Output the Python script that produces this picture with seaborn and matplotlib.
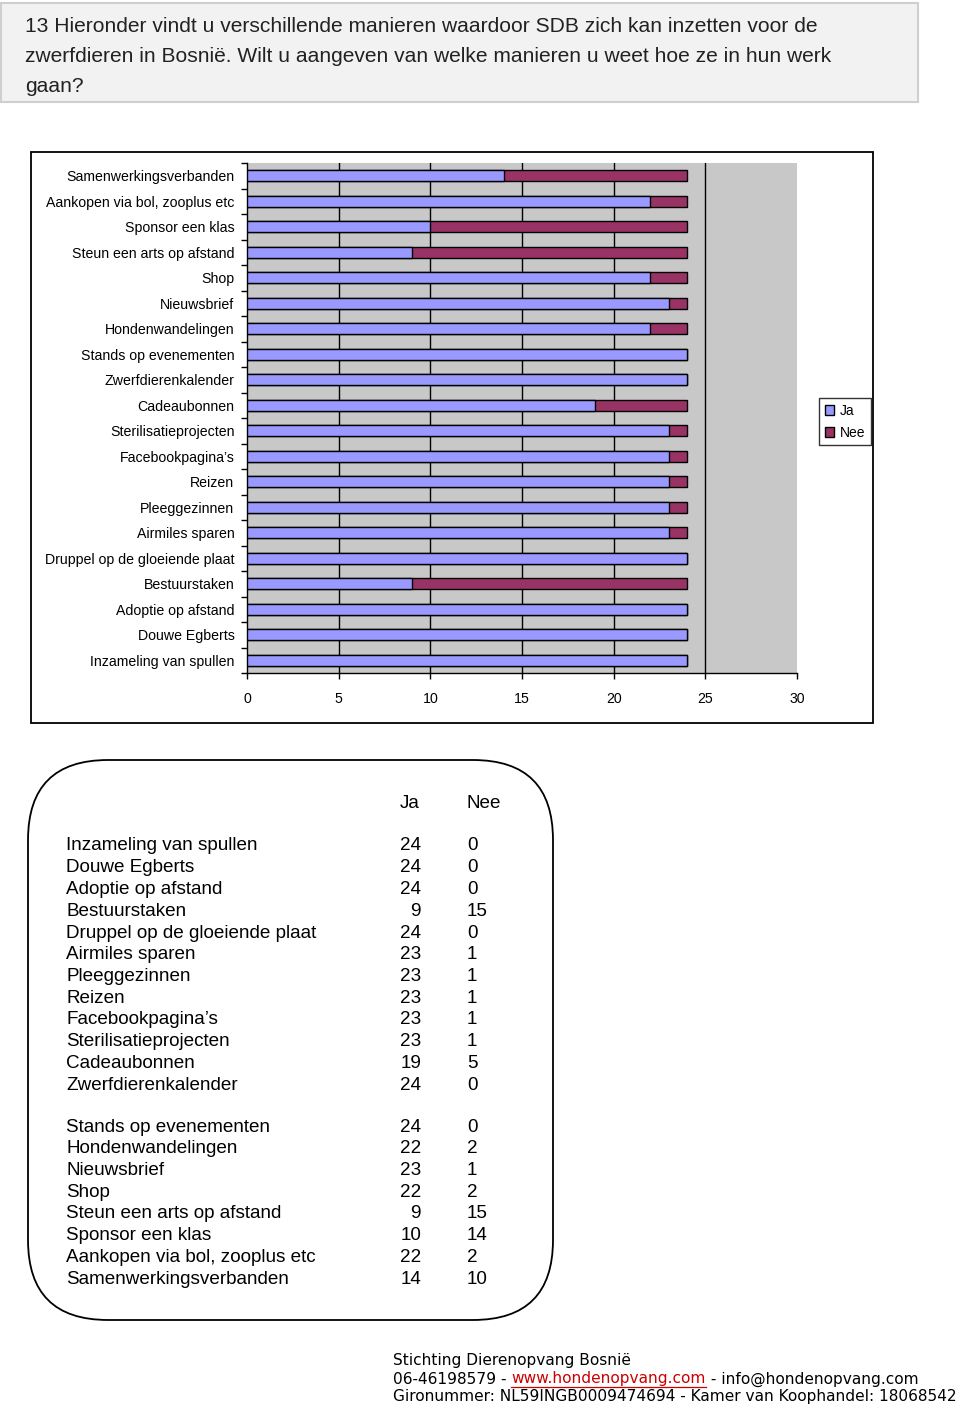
import matplotlib
matplotlib.use("Agg")
import matplotlib.pyplot as plt
import seaborn as sns
import pandas as pd
from matplotlib.patches import Rectangle, FancyBboxPatch, Patch
from matplotlib.ticker import FixedLocator

# ---------------- data ----------------
categories = ["Inzameling van spullen", "Douwe Egberts", "Adoptie op afstand", "Bestuurstaken",
              "Druppel op de gloeiende plaat", "Airmiles sparen", "Pleeggezinnen", "Reizen",
              "Facebookpagina’s", "Sterilisatieprojecten", "Cadeaubonnen", "Zwerfdierenkalender",
              "Stands op evenementen", "Hondenwandelingen", "Nieuwsbrief", "Shop",
              "Steun een arts op afstand", "Sponsor een klas", "Aankopen via bol, zooplus etc",
              "Samenwerkingsverbanden"]
ja = [24, 24, 24, 9, 24, 23, 23, 23, 23, 23, 19, 24, 24, 22, 23, 22, 9, 10, 22, 14]
nee = [0, 0, 0, 15, 0, 1, 1, 1, 1, 1, 5, 0, 0, 2, 1, 2, 15, 14, 2, 10]
series_labels = ["Ja", "Nee"]
x_ticks = [0, 5, 10, 15, 20, 25, 30]

title_lines = ["13 Hieronder vindt u verschillende manieren waardoor SDB zich kan inzetten voor de",
               "zwerfdieren in Bosnië. Wilt u aangeven van welke manieren u weet hoe ze in hun werk",
               "gaan?"]
footer_line1 = "Stichting Dierenopvang Bosnië"
footer_line2 = ["06-46198579 - ", "www.hondenopvang.com", " - info@hondenopvang.com"]
footer_line3 = "Gironummer: NL59INGB0009474694 - Kamer van Koophandel: 18068542"

JA_COLOR = "#9999ff"
NEE_COLOR = "#993366"

W, H = 960, 1409
fig = plt.figure(figsize=(W / 100, H / 100), dpi=100, facecolor="white")
plt.rcParams["font.family"] = ["Liberation Sans", "DejaVu Sans"]

# background overlay axes in pixel coords
bg = fig.add_axes([0, 0, 1, 1], zorder=-1)
bg.set_xlim(0, W)
bg.set_ylim(H, 0)
bg.axis("off")

# header box
bg.add_patch(Rectangle((1, 3), 917, 99, facecolor="#f2f2f2", edgecolor="#cfcfcf", lw=1.5))
for i, line in enumerate(title_lines):
    bg.text(25, 27 + 30 * i, line, fontsize=15.1, va="center", ha="left", color="#222222",
            family=["Liberation Sans", "DejaVu Sans"])

# chart frame
bg.add_patch(Rectangle((31, 152), 842, 571, facecolor="white", edgecolor="black", lw=1.3))

# ---------------- bar chart ----------------
chart_df = pd.DataFrame({"cat": categories[::-1], "ja": ja[::-1], "nee": nee[::-1]})
chart_df["total"] = chart_df["ja"] + chart_df["nee"]

ax = fig.add_axes([247 / W, 1 - 673 / H, 550 / W, 510 / H])
ax.set_facecolor("#c8c8c8")
sns.barplot(data=chart_df, x="total", y="cat", orient="h", color=NEE_COLOR, saturation=1,
            edgecolor="black", linewidth=1, width=0.42, ax=ax, zorder=3)
sns.barplot(data=chart_df, x="ja", y="cat", orient="h", color=JA_COLOR, saturation=1,
            edgecolor="black", linewidth=1, width=0.42, ax=ax, zorder=4)
n = len(categories)
ax.set_xlim(0, 30)
ax.set_ylim(n - 0.5, -0.5)
ax.set_xlabel("")
ax.set_ylabel("")
ax.set_xticks(x_ticks)
ax.set_xticklabels([str(t) for t in x_ticks], fontsize=10.2)
ax.tick_params(axis="x", length=4, width=1, color="black", direction="out", pad=10)
ax.tick_params(axis="y", which="major", length=0, pad=9, labelsize=10.2)
ax.yaxis.set_minor_locator(FixedLocator([i - 0.5 for i in range(n + 1)]))
ax.tick_params(axis="y", which="minor", length=4, width=1, color="black", direction="out")
ax.grid(axis="x", color="black", lw=1, zorder=1)
ax.set_axisbelow(True)
for gl, t in zip(ax.get_xgridlines(), x_ticks):
    if t in (0, 30):
        gl.set_visible(False)
for s in ["top", "right"]:
    ax.spines[s].set_visible(False)
for s in ["left", "bottom"]:
    ax.spines[s].set_color("black")
    ax.spines[s].set_linewidth(1)

handles = [Patch(facecolor=JA_COLOR, edgecolor="black", label=series_labels[0]),
           Patch(facecolor=NEE_COLOR, edgecolor="black", label=series_labels[1])]
leg = ax.legend(handles=handles, loc="upper left", bbox_to_anchor=(819 / W, 1 - 398 / H),
                bbox_transform=fig.transFigure, fontsize=10, frameon=True, fancybox=False,
                edgecolor="black", handlelength=0.7, handleheight=0.7, handletextpad=0.4,
                borderpad=0.4, labelspacing=0.6, borderaxespad=0)
leg.get_frame().set_linewidth(1)

# ---------------- table ----------------
bg.add_patch(FancyBboxPatch((28, 760), 525, 560, boxstyle="round,pad=0,rounding_size=80",
                            facecolor="white", edgecolor="black", lw=1.3))
TF = 13.6
bg.text(400, 803, series_labels[0], fontsize=TF, va="center", ha="left")
bg.text(467, 803, series_labels[1], fontsize=TF, va="center", ha="left")
for i, (c, a, b) in enumerate(zip(categories, ja, nee)):
    y = 846 + i * 21.75 if i < 12 else 1127 + (i - 12) * 21.75
    bg.text(66, y, c, fontsize=TF, va="center", ha="left")
    bg.text(421, y, str(a), fontsize=TF, va="center", ha="right")
    bg.text(467, y, str(b), fontsize=TF, va="center", ha="left")

# ---------------- footer ----------------
FF = 11.05
ffam = ["DejaVu Sans"]
bg.text(393, 1361, footer_line1, fontsize=FF, va="center", ha="left", family=ffam)
renderer = fig.canvas.get_renderer()
x = 393
inv = bg.transData.inverted()
for j, seg in enumerate(footer_line2):
    color = "#cc0000" if j == 1 else "black"
    t = bg.text(x, 1379, seg, fontsize=FF, va="center", ha="left", family=ffam, color=color)
    bb = t.get_window_extent(renderer=renderer)
    (x0, y0), (x1, y1) = inv.transform([[bb.x0, bb.y0], [bb.x1, bb.y1]])
    if j == 1:
        bg.plot([x0, x1], [1386.5, 1386.5], color=color, lw=0.9)
    x = x1
bg.text(393, 1397, footer_line3, fontsize=FF, va="center", ha="left", family=ffam)

fig.savefig("out.png", dpi=100, facecolor="white")
